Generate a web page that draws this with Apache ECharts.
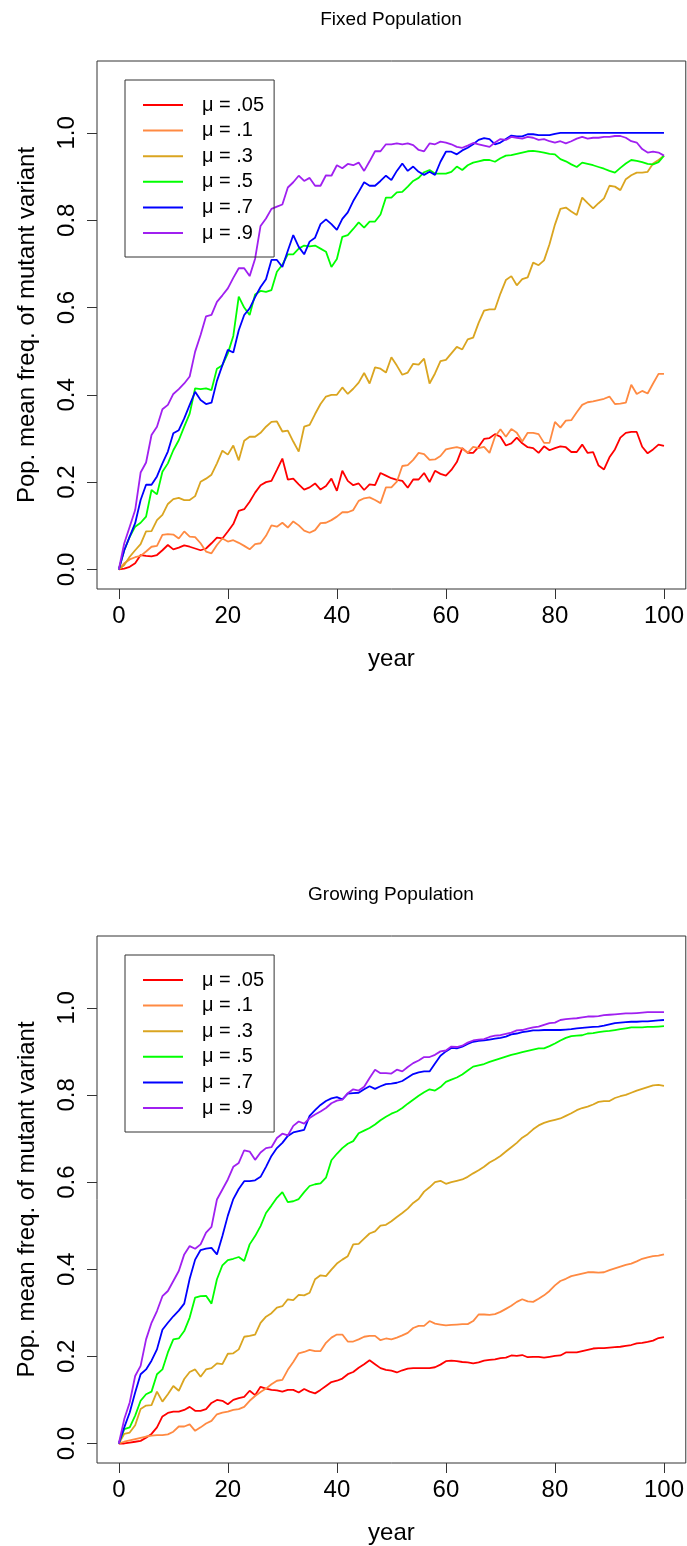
<!DOCTYPE html>
<html>
<head>
<meta charset="utf-8">
<title>Mutant variant frequency</title>
<script src="https://cdn.jsdelivr.net/npm/echarts@6.0.0/dist/echarts.min.js"></script>
<style>
  html, body { margin: 0; padding: 0; background: #fff; }
  #chart { width: 687px; height: 1546px; }
</style>
</head>
<body>
<div id="chart"></div>
<script>
  // years 0..100, one point per year
  var years = [];
  for (var i = 0; i <= 100; i++) years.push(i);

  var seriesNames = ['μ = .05', 'μ = .1', 'μ = .3', 'μ = .5', 'μ = .7', 'μ = .9'];
  var seriesColors = ['#ff0000', '#ff8a42', '#daa520', '#00ff00', '#0000ff', '#a020f0'];

  var xTicks = [0, 20, 40, 60, 80, 100];
  var yTicks = [0, 0.2, 0.4, 0.6, 0.8, 1.0];

  // Fixed Population
  var fixedMu05 = [0, .002, .006, .014, .033, .031, .03, .033, .044, .056,
    .046, .05, .055, .052, .048, .044, .048, .06, .073, .071,
    .087, .104, .134, .138, .155, .176, .193, .2, .203, .228,
    .254, .206, .208, .195, .183, .188, .197, .183, .191, .208,
    .18, .226, .203, .193, .197, .182, .195, .193, .221, .215,
    .209, .205, .203, .187, .206, .206, .221, .2, .226, .219,
    .215, .228, .246, .278, .267, .267, .281, .299, .301, .31,
    .304, .284, .289, .302, .289, .28, .278, .267, .282, .273,
    .278, .282, .28, .269, .269, .286, .267, .269, .238, .229,
    .257, .275, .302, .313, .315, .315, .281, .266, .275, .286,
    .283];
  var fixedMu1 = [0, .014, .023, .028, .031, .041, .052, .054, .079, .081,
    .08, .071, .087, .075, .074, .06, .041, .037, .056, .071,
    .064, .067, .061, .054, .046, .058, .06, .077, .101, .098,
    .107, .096, .11, .101, .089, .084, .09, .106, .107, .113,
    .121, .131, .131, .136, .157, .163, .165, .159, .152, .188,
    .188, .201, .237, .239, .251, .267, .264, .251, .252, .26,
    .275, .278, .28, .277, .267, .281, .278, .281, .267, .304,
    .321, .304, .322, .313, .293, .313, .313, .31, .29, .29,
    .338, .325, .341, .342, .36, .377, .383, .385, .388, .391,
    .396, .379, .38, .382, .423, .402, .409, .403, .426, .448,
    .448];
  var fixedMu3 = [0, .01, .029, .044, .058, .087, .088, .113, .125, .15,
    .161, .164, .159, .159, .168, .201, .208, .217, .243, .272,
    .263, .284, .25, .295, .304, .304, .313, .327, .338, .339,
    .316, .318, .293, .27, .327, .331, .356, .379, .396, .4,
    .4, .417, .402, .414, .428, .45, .426, .463, .46, .451,
    .486, .467, .446, .451, .471, .469, .483, .426, .449, .477,
    .48, .495, .51, .504, .527, .531, .565, .593, .596, .596,
    .632, .663, .672, .651, .665, .669, .703, .697, .708, .745,
    .79, .826, .829, .82, .812, .852, .839, .827, .839, .85,
    .879, .877, .869, .894, .903, .909, .909, .911, .93, .938,
    .948];
  var fixedMu5 = [0, .044, .075, .098, .107, .121, .182, .172, .224, .243,
    .273, .296, .327, .357, .415, .413, .415, .411, .46, .468,
    .495, .535, .625, .6, .583, .63, .638, .636, .64, .682,
    .698, .722, .722, .735, .742, .74, .742, .735, .728, .693,
    .711, .762, .766, .78, .795, .783, .797, .797, .813, .852,
    .852, .864, .865, .877, .89, .897, .91, .915, .907, .907,
    .907, .911, .923, .915, .926, .932, .935, .938, .938, .934,
    .942, .948, .949, .952, .955, .958, .959, .957, .955, .952,
    .951, .94, .935, .928, .922, .932, .929, .926, .922, .918,
    .913, .909, .92, .93, .938, .936, .933, .929, .928, .933,
    .948];
  var fixedMu7 = [0, .044, .075, .106, .159, .194, .194, .213, .243, .27,
    .312, .319, .346, .377, .407, .388, .379, .382, .432, .468,
    .503, .497, .548, .583, .598, .624, .647, .665, .709, .709,
    .693, .73, .766, .739, .722, .751, .76, .791, .802, .791,
    .778, .803, .818, .844, .865, .887, .879, .879, .89, .902,
    .892, .913, .93, .913, .923, .911, .904, .911, .904, .934,
    .957, .957, .951, .96, .966, .974, .984, .988, .986, .974,
    .978, .986, .994, .992, .992, .997, .997, .995, .995, .995,
    .998, 1, 1, 1, 1, 1, 1, 1, 1, 1,
    1, 1, 1, 1, 1, 1, 1, 1, 1, 1,
    1];
  var fixedMu9 = [0, .06, .098, .136, .222, .245, .308, .327, .367, .377,
    .402, .413, .426, .442, .499, .537, .58, .583, .613, .628,
    .644, .668, .69, .69, .672, .712, .787, .804, .826, .831,
    .836, .875, .887, .902, .89, .897, .879, .879, .903, .902,
    .926, .919, .929, .926, .932, .913, .935, .958, .958, .974,
    .974, .976, .974, .976, .972, .961, .958, .976, .974, .98,
    .978, .974, .968, .966, .971, .977, .974, .971, .968, .978,
    .986, .984, .991, .989, .987, .991, .989, .984, .986, .981,
    .978, .981, .976, .981, .987, .991, .987, .989, .989, .991,
    .991, .993, .993, .989, .981, .978, .963, .955, .957, .955,
    .948];

  // Growing Population
  var growMu05 = [0, 0, .002, .004, .006, .013, .022, .037, .062, .07,
    .073, .073, .077, .084, .075, .075, .079, .093, .1, .098,
    .09, .1, .104, .107, .121, .111, .13, .126, .123, .122,
    .119, .123, .123, .117, .125, .119, .115, .123, .132, .141,
    .144, .149, .159, .164, .174, .182, .191, .182, .173, .169,
    .167, .163, .168, .172, .173, .173, .173, .173, .175, .181,
    .189, .19, .189, .187, .186, .184, .186, .19, .192, .193,
    .196, .197, .202, .201, .203, .198, .199, .199, .197, .199,
    .201, .202, .209, .209, .209, .212, .215, .218, .219, .219,
    .22, .221, .222, .224, .226, .23, .231, .233, .236, .242,
    .244];
  var growMu1 = [0, .004, .007, .01, .013, .016, .018, .019, .019, .021,
    .027, .039, .039, .044, .029, .037, .046, .052, .067, .071,
    .073, .077, .079, .084, .098, .109, .118, .126, .136, .144,
    .146, .169, .187, .207, .21, .215, .212, .212, .231, .243,
    .25, .25, .234, .234, .239, .245, .247, .247, .237, .241,
    .239, .243, .248, .254, .265, .27, .27, .281, .275, .273,
    .271, .272, .273, .274, .274, .281, .296, .296, .295, .297,
    .302, .309, .316, .325, .331, .326, .325, .332, .34, .35,
    .363, .373, .378, .384, .387, .39, .393, .393, .392, .393,
    .398, .402, .406, .41, .413, .418, .424, .427, .43, .431,
    .434];
  var growMu3 = [0, .022, .025, .042, .079, .087, .088, .119, .096, .113,
    .132, .121, .148, .164, .17, .153, .17, .173, .184, .182,
    .206, .207, .216, .245, .247, .25, .277, .291, .299, .312,
    .315, .331, .329, .341, .34, .346, .377, .386, .384, .399,
    .413, .422, .43, .457, .458, .47, .482, .487, .5, .502,
    .51, .52, .529, .539, .552, .561, .578, .588, .6, .603,
    .596, .6, .603, .606, .612, .62, .627, .635, .645, .652,
    .66, .67, .68, .69, .702, .71, .721, .73, .736, .74,
    .743, .746, .752, .758, .765, .77, .773, .778, .784, .786,
    .786, .793, .797, .8, .805, .81, .814, .818, .822, .823,
    .821];
  var growMu5 = [0, .033, .037, .064, .098, .113, .119, .159, .17, .209,
    .239, .241, .258, .289, .335, .338, .339, .321, .377, .409,
    .421, .424, .428, .419, .457, .476, .499, .529, .546, .564,
    .577, .554, .556, .561, .577, .591, .595, .597, .61, .65,
    .665, .678, .688, .694, .712, .718, .724, .732, .742, .75,
    .757, .762, .77, .78, .789, .798, .806, .813, .81, .818,
    .83, .835, .84, .847, .856, .865, .868, .871, .876, .88,
    .884, .888, .892, .895, .898, .901, .904, .907, .907, .912,
    .918, .925, .931, .935, .936, .937, .941, .942, .944, .946,
    .947, .949, .951, .953, .955, .955, .955, .956, .956, .957,
    .958];
  var growMu7 = [0, .037, .071, .117, .159, .17, .19, .216, .261, .277,
    .292, .305, .321, .378, .422, .444, .447, .449, .434, .476,
    .523, .561, .584, .602, .602, .604, .612, .635, .66, .678,
    .69, .706, .714, .717, .72, .752, .765, .777, .786, .792,
    .795, .79, .803, .804, .805, .813, .82, .814, .82, .825,
    .826, .828, .832, .84, .848, .852, .854, .854, .872, .89,
    .9, .908, .907, .911, .917, .922, .924, .925, .927, .929,
    .931, .934, .939, .941, .944, .946, .948, .948, .949, .949,
    .949, .949, .95, .951, .953, .954, .955, .956, .957, .959,
    .962, .965, .966, .967, .968, .968, .969, .969, .97, .971,
    .972];
  var growMu9 = [0, .056, .094, .155, .178, .239, .277, .304, .338, .35,
    .373, .396, .434, .453, .447, .457, .484, .497, .56, .583,
    .606, .635, .644, .673, .67, .651, .668, .678, .68, .701,
    .711, .707, .729, .739, .734, .747, .755, .762, .77, .781,
    .787, .789, .804, .813, .81, .819, .839, .858, .85, .85,
    .849, .858, .854, .864, .873, .879, .887, .887, .892, .9,
    .902, .911, .91, .913, .92, .925, .927, .928, .933, .936,
    .937, .94, .943, .948, .949, .952, .955, .957, .961, .965,
    .966, .972, .974, .975, .976, .978, .98, .98, .981, .983,
    .984, .985, .986, .987, .987, .988, .989, .99, .99, .99,
    .99];

  var fixedData = [fixedMu05, fixedMu1, fixedMu3, fixedMu5, fixedMu7, fixedMu9];
  var growData = [growMu05, growMu1, growMu3, growMu5, growMu7, growMu9];

  var FONT = '"Liberation Sans", Arial, Helvetica, sans-serif';

  function pairs(vals) {
    return years.map(function (y, i) { return [y, vals[i]]; });
  }

  function makeSeries(list, idx) {
    return list.map(function (vals, k) {
      return {
        name: seriesNames[k],
        type: 'line',
        xAxisIndex: idx,
        yAxisIndex: idx,
        data: pairs(vals),
        symbol: 'none',
        showSymbol: false,
        color: seriesColors[k],
        lineStyle: { width: 1.8, color: seriesColors[k] },
        emphasis: { disabled: true },
        animation: false
      };
    });
  }

  function makeX(idx) {
    return {
      type: 'value',
      gridIndex: idx,
      min: -4,
      max: 104,
      name: 'year',
      nameLocation: 'middle',
      nameGap: 58,
      nameTextStyle: { fontSize: 24, color: '#000', fontFamily: FONT },
      axisLine: { show: false, onZero: false },
      axisTick: { show: true, customValues: xTicks, length: 10, lineStyle: { color: '#333' } },
      axisLabel: { customValues: xTicks, fontSize: 24, color: '#000', fontFamily: FONT, margin: 15 },
      splitLine: { show: false }
    };
  }

  function makeY(idx) {
    return {
      type: 'value',
      gridIndex: idx,
      min: -0.0448,
      max: 1.1648,
      name: 'Pop. mean freq. of mutant variant',
      nameLocation: 'middle',
      nameRotate: 90,
      nameGap: 58,
      nameTextStyle: { fontSize: 24, color: '#000', fontFamily: FONT },
      axisLine: { show: false, onZero: false },
      axisTick: { show: true, customValues: yTicks, length: 10, lineStyle: { color: '#333' } },
      axisLabel: {
        customValues: yTicks,
        rotate: 90,
        fontSize: 24,
        color: '#000',
        fontFamily: FONT,
        margin: 18,
        formatter: function (v) { return v.toFixed(1); }
      },
      splitLine: { show: false }
    };
  }

  function makeLegend(top) {
    return {
      orient: 'vertical',
      left: 125,
      top: top,
      padding: [15, 10, 14, 18],
      itemGap: 5.6,
      itemWidth: 40,
      itemHeight: 2,
      icon: 'rect',
      borderColor: '#333',
      borderWidth: 1,
      borderRadius: 0,
      selectedMode: false,
      data: seriesNames,
      textStyle: { fontSize: 20, lineHeight: 20, color: '#000', fontFamily: FONT, padding: [0, 0, 0, 14] }
    };
  }

  var chart = echarts.init(document.getElementById('chart'), null, { renderer: 'canvas' });
  chart.setOption({
    animation: false,
    backgroundColor: '#fff',
    title: [{
      text: 'Fixed Population',
      left: 391,
      top: 10,
      textAlign: 'center',
      padding: 0,
      textStyle: { fontSize: 19, fontWeight: 'normal', color: '#000', fontFamily: FONT, lineHeight: 20 }
    }, {
      text: 'Growing Population',
      left: 391,
      top: 885,
      textAlign: 'center',
      padding: 0,
      textStyle: { fontSize: 19, fontWeight: 'normal', color: '#000', fontFamily: FONT, lineHeight: 20 }
    }],
    legend: [makeLegend(80), makeLegend(955)],
    grid: [
      { left: 97, right: 1, top: 61, height: 528, show: true, borderColor: '#333', borderWidth: 1, backgroundColor: 'transparent' },
      { left: 97, right: 1, top: 936, height: 528, show: true, borderColor: '#333', borderWidth: 1, backgroundColor: 'transparent' }
    ],
    xAxis: [makeX(0), makeX(1)],
    yAxis: [makeY(0), makeY(1)],
    series: makeSeries(fixedData, 0).concat(makeSeries(growData, 1))
  });
</script>
</body>
</html>
